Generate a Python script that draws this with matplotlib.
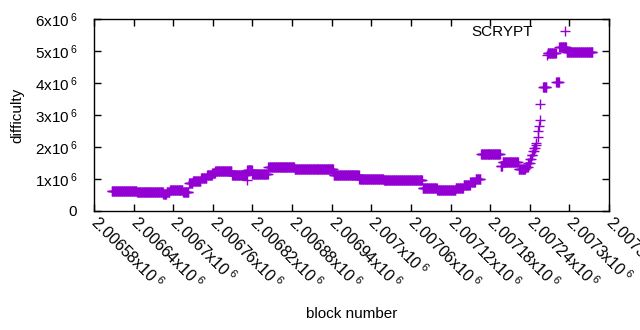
import numpy as np
import matplotlib
matplotlib.use('Agg')
import matplotlib.pyplot as plt
import matplotlib.ticker as ticker

plt.rcParams['font.family'] = ['Liberation Sans', 'DejaVu Sans']
plt.rcParams['mathtext.fontset'] = 'custom'
plt.rcParams['mathtext.rm'] = 'Liberation Sans'
plt.rcParams['mathtext.it'] = 'Liberation Sans'

# difficulty runs: first block, block after last, difficulty
run_start = [2006607, 2006645, 2006660, 2006685, 2006690, 2006695, 2006715, 2006724,
             2006730, 2006742, 2006751, 2006759, 2006764, 2006789, 2006811, 2006812,
             2006820, 2006844, 2006884, 2006943, 2006982, 2007019, 2007078, 2007100,
             2007128, 2007140, 2007150, 2007158, 2007166, 2007196, 2007199, 2007223,
             2007234, 2007238, 2007241, 2007243, 2007245, 2007247, 2007249, 2007250,
             2007252, 2007253, 2007254, 2007255, 2007256, 2007260, 2007266, 2007267,
             2007280, 2007285, 2007296]
run_end = [2006645, 2006660, 2006685, 2006690, 2006695, 2006715, 2006724, 2006730,
           2006742, 2006751, 2006759, 2006764, 2006789, 2006811, 2006812, 2006820,
           2006844, 2006884, 2006943, 2006982, 2007019, 2007078, 2007100, 2007128,
           2007140, 2007150, 2007158, 2007166, 2007196, 2007199, 2007223, 2007234,
           2007238, 2007241, 2007243, 2007245, 2007247, 2007249, 2007250, 2007251,
           2007253, 2007254, 2007255, 2007256, 2007257, 2007266, 2007267, 2007280,
           2007285, 2007296, 2007336]
run_diff = [0.62e6, 0.60e6, 0.58e6, 0.54e6, 0.60e6, 0.66e6, 0.60e6, 0.86e6,
            0.95e6, 1.04e6, 1.12e6, 1.20e6, 1.25e6, 1.12e6, 0.97e6, 1.29e6,
            1.15e6, 1.38e6, 1.30e6, 1.12e6, 1.01e6, 0.97e6, 0.71e6, 0.67e6,
            0.72e6, 0.82e6, 0.92e6, 1.00e6, 1.78e6, 1.42e6, 1.53e6, 1.30e6,
            1.38e6, 1.50e6, 1.62e6, 1.75e6, 1.88e6, 1.98e6, 2.05e6, 2.12e6,
            2.30e6, 2.50e6, 2.65e6, 2.85e6, 3.35e6, 3.88e6, 4.88e6, 4.95e6,
            4.02e6, 5.12e6, 4.97e6]

blocks = np.concatenate([np.arange(s, e) for s, e in zip(run_start, run_end)])
diffs = np.concatenate([np.full(e - s, d) for s, e, d in zip(run_start, run_end, run_diff)])

xticks = np.arange(2006580, 2007361, 60)
yticks = [0, 1e6, 2e6, 3e6, 4e6, 5e6, 6e6]
ytick_labels = ['0'] + [r'%dx10$\,^{6}$' % i for i in range(1, 7)]
xtick_labels = [(r'%.6g' % (t / 1e6)) + r'x10$\,^{6}$' for t in xticks]

fig = plt.figure(figsize=(6.4, 3.3), dpi=100)
ax = fig.add_axes([94 / 640, 1 - 211 / 330, 515 / 640, 192 / 330])

ax.plot(blocks, diffs, linestyle='none', marker='+', markersize=7, markeredgewidth=1,
        color='#9400d3', label='SCRYPT')

ax.set_xlim(2006580, 2007360)
ax.set_ylim(0, 6e6)
ax.set_xticks(xticks)
ax.set_xticklabels(xtick_labels, rotation=-45, ha='left', va='center',
                   rotation_mode='anchor', fontsize=11.5)
ax.set_yticks(yticks)
ax.set_yticklabels(ytick_labels, fontsize=11)
ax.tick_params(direction='in', length=5, width=1, top=True, right=True)
ax.tick_params(axis='y', pad=12)
ax.tick_params(axis='x', pad=6)
for s in ax.spines.values():
    s.set_linewidth(1)

ax.set_xlabel('block number', fontsize=11)
ax.xaxis.set_label_coords(0.5, -0.50)
ax.set_ylabel('difficulty', fontsize=11)
ax.yaxis.set_label_coords(-0.135, 0.5)

ax.legend(loc='upper right', bbox_to_anchor=(495 / 515, 1.03), frameon=False,
          markerfirst=False, fontsize=11, handlelength=1.5, handletextpad=1.4,
          borderpad=0.3)

fig.savefig('out.png', dpi=100)
